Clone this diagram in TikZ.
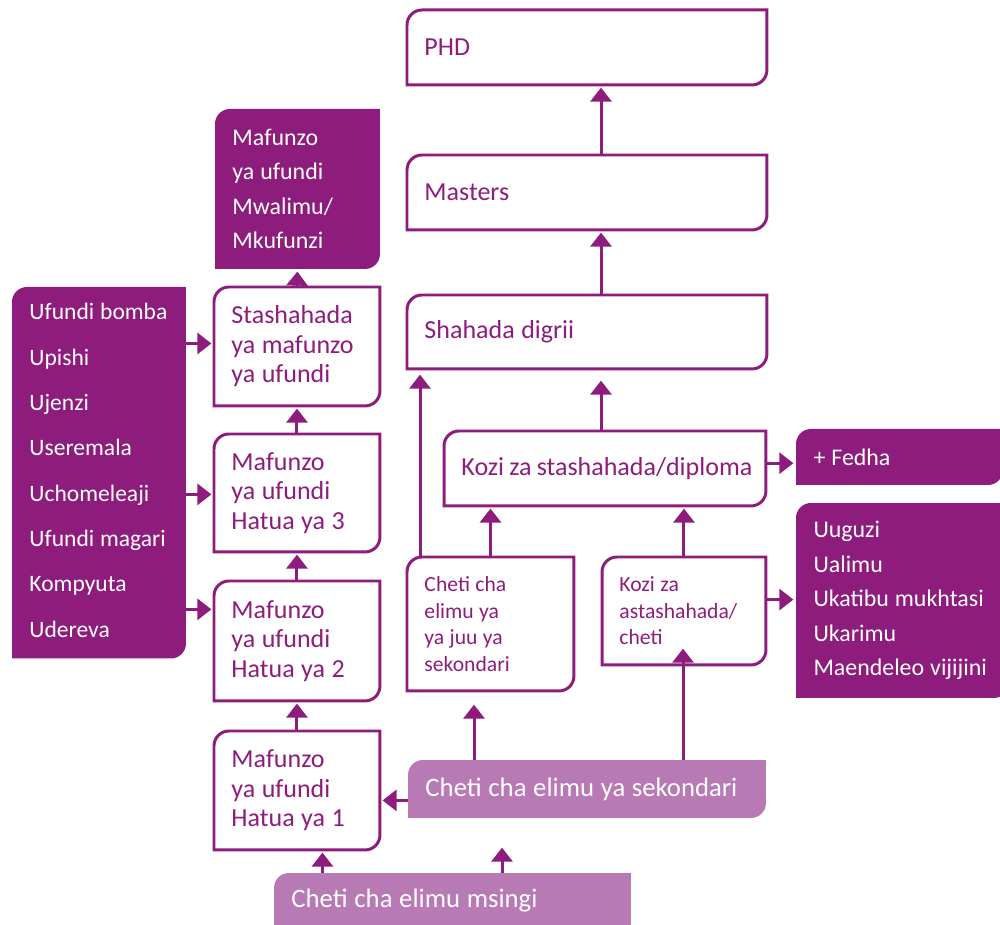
\documentclass[tikz,border=0pt]{standalone}
\usepackage{fontspec}
\setmainfont{Carlito}
\usetikzlibrary{arrows.meta,backgrounds}
\definecolor{plum}{HTML}{8E1C7C}
\definecolor{lilac}{HTML}{B87AB4}
\lefthyphenmin=64

% outline with the top left and bottom right corners rounded
\newcommand{\cutbox}[2][draw=plum]{%
  \path[line width=1.7pt,#1] (#2.south west) -- ([yshift=-8.5pt]#2.north west)
    arc[start angle=180,end angle=90,radius=8.5pt] -- (#2.north east)
    -- ([yshift=8.5pt]#2.south east)
    arc[start angle=0,end angle=-90,radius=8.5pt] -- cycle;}

\begin{document}
\begin{tikzpicture}[x=0.02cm,y=-0.02cm,>={Triangle[width=12pt,length=8pt]},
  line width=1.7pt,
  out node/.style={anchor=north west,align=left,inner xsep=0.32cm,inner ysep=0pt,
    text=plum,font=\fontsize{14.8}{16.8}\selectfont,
    execute at begin node={\spaceskip=0.25em plus 0.1em minus 0.05em}},
  fill node/.style={out node,text=white,font=\fontsize{13.6}{19.7}\selectfont},
  small node/.style={out node,font=\fontsize{12.3}{15.1}\selectfont},
  light node/.style={out node,text=white,font=\fontsize{15.2}{16.8}\selectfont},
  link/.style={->,draw=plum,shorten >=1.5pt}]
  \useasboundingbox (0,0) rectangle (1000,925);

  % university column
  \node[out node,text width=6.5cm,minimum height=1.44cm]  (phd)     at (407,10)  {PHD};
  \node[out node,text width=6.5cm,minimum height=1.44cm]  (masters) at (407,155) {Masters};
  \node[out node,text width=6.5cm,minimum height=1.42cm]  (shahada) at (407,295) {Shahada digrii};
  \node[out node,text width=5.74cm,minimum height=1.44cm] (stash)   at (444,431) {Kozi~za~stashahada/diploma};
  \node[fill node,text width=3.44cm,minimum height=1.06cm] (fedha)  at (796,429) {+ Fedha};
  \node[fill node,text width=3.56cm,minimum height=3.84cm] (kazi)   at (796,503)
    {Uuguzi\\Ualimu\\Ukatibu~mukhtasi\\Ukarimu\\Maendeleo~vijijini};
  \node[small node,text width=2.64cm,minimum height=2.62cm] (juu)    at (407,557)
    {Cheti cha\\elimu ya\\ya juu ya\\sekondari};
  \node[small node,text width=2.58cm,minimum height=2.1cm]  (astash) at (602,557)
    {Kozi za\\astashahada/\\cheti};

  % vocational column
  \node[fill node,text width=2.6cm,minimum height=3.14cm] (mwalimu) at (215,109)
    {Mafunzo\\ya ufundi\\Mwalimu/\\Mkufunzi};
  \node[out node,text width=2.62cm,minimum height=2.32cm] (stashufundi) at (214,287)
    {Stashahada\\ya~mafunzo\\ya ufundi};
  \node[out node,text width=2.62cm,minimum height=2.3cm]  (hatua3) at (214,434)
    {Mafunzo\\ya ufundi\\Hatua ya 3};
  \node[out node,text width=2.62cm,minimum height=2.34cm] (hatua2) at (214,581)
    {Mafunzo\\ya ufundi\\Hatua ya 2};
  \node[out node,text width=2.62cm,minimum height=2.32cm] (hatua1) at (214,731)
    {Mafunzo\\ya ufundi\\Hatua ya 1};
  \node[fill node,text width=2.78cm,minimum height=7.28cm,
    font=\fontsize{13.4}{25.8}\selectfont] (fani) at (12,287)
    {Ufundi~bomba\\Upishi\\Ujenzi\\Useremala\\Uchomeleaji\\Ufundi~magari\\Kompyuta\\Udereva};

  % certificates
  \node[light node,text width=6.46cm,minimum height=1.1cm]  (sekondari) at (408,760)
    {Cheti~cha~elimu~ya~sekondari};
  \node[light node,text width=6.44cm,minimum height=1.04cm] (msingi)    at (274,873)
    {Cheti cha elimu msingi};

  \begin{scope}[on background layer]
    \foreach \b in {phd,masters,shahada,stash,juu,astash,stashufundi,hatua3,hatua2,hatua1}
      \cutbox{\b};
    \foreach \b in {fedha,kazi,mwalimu}
      \cutbox[fill=plum]{\b};
    \fill[plum] ([yshift=-8.5pt]fani.north west)
      arc[start angle=180,end angle=90,radius=8.5pt] -- (fani.north east)
      -- ([yshift=5.9pt]fani.south east)
      arc[start angle=0,end angle=-90,radius=8.5pt] -- ([yshift=-2.6pt]fani.south west) -- cycle;
    \cutbox[fill=lilac]{sekondari};
    \fill[lilac] ([yshift=-8.5pt]msingi.north west)
      arc[start angle=180,end angle=90,radius=8.5pt] -- (msingi.north east)
      -- ([yshift=-12pt]msingi.south east) -- ([yshift=-12pt]msingi.south west) -- cycle;
  \end{scope}

  % free ends
  \coordinate (up1) at (601,378);
  \coordinate (up2) at (420,372);
  \coordinate (tip2) at (474,702);
  \coordinate (tip3) at (683,646);
  \coordinate (tip1) at (502,845);
  \coordinate (h1foot) at ([xshift=14.5pt]hatua1.south);

  \draw[link] (up1 |- masters.north) -- (up1 |- phd.south);
  \draw[link] (up1 |- shahada.north) -- (up1 |- masters.south);
  \draw[link] (up1 |- stash.north) -- (up1);
  \draw[link] (up2 |- juu.north) -- (up2);
  \draw[link] (juu.north) -- (juu.north |- stash.south);
  \draw[link] (astash.north) -- (astash.north |- stash.south);
  \draw[link] ([yshift=3pt]stash.east) -- ([yshift=3pt]stash.east -| fedha.west);
  \draw[link] ([yshift=6.5pt]astash.east) -- ([yshift=6.5pt]astash.east -| kazi.west);

  \draw[link] (stashufundi.north) -- (mwalimu.south);
  \draw[link] (hatua3.north) -- (stashufundi.south);
  \draw[link] (hatua2.north) -- (hatua3.south);
  \draw[link] (hatua1.north) -- (hatua2.south);
  \draw[link] ([yshift=1.7pt]stashufundi.west -| fani.east) -- ([yshift=1.7pt]stashufundi.west);
  \draw[link] ([yshift=-0.8pt]hatua3.west -| fani.east) -- ([yshift=-0.8pt]hatua3.west);
  \draw[link] ([yshift=18pt]hatua2.west -| fani.east) -- ([yshift=18pt]hatua2.west);

  \draw[link] ([yshift=-6.5pt]sekondari.west) -- ([yshift=-6.5pt]sekondari.west -| hatua1.east);
  \draw[link] (tip2 |- sekondari.north) -- (tip2);
  \draw[link] (tip3 |- sekondari.north) -- (tip3);
  \draw[link] (h1foot |- msingi.north) -- (h1foot);
  \draw[link] (tip1 |- msingi.north) -- (tip1);
\end{tikzpicture}
\end{document}
